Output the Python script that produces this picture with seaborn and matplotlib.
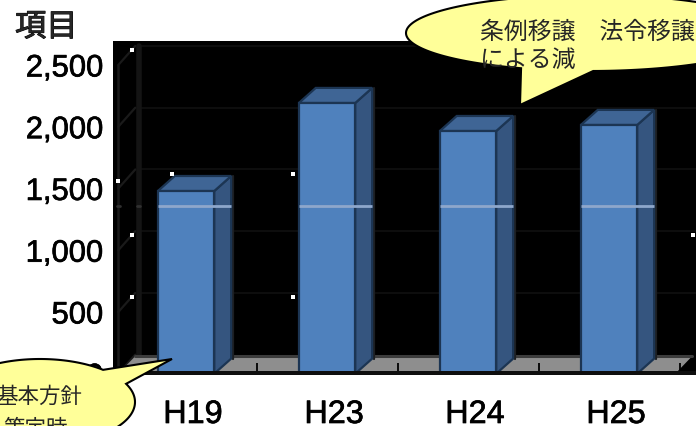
import numpy as np
import pandas as pd
import matplotlib
matplotlib.use("Agg")
import matplotlib.pyplot as plt
import matplotlib.patheffects as pe
import matplotlib.transforms as mtrans
from matplotlib.patches import Polygon
import seaborn as sns

years = ["H19", "H23", "H24", "H25"]
counts = [1479, 2192, 1965, 2014]
axis_values = [0, 500, 1000, 1500, 2000, 2500]
axis_labels = ["0", "500", "1,000", "1,500", "2,000", "2,500"]
axis_title = "項目"
note_upper = ["条例移譲\u3000法令移譲", "による減"]
note_lower = ["基本方針", "策定時"]

W, H = 696, 426
LATIN = "Liberation Sans"
CJK = "Noto Sans CJK JP"
FACE, SIDE, TOP, EDGE = "#4f81bd", "#35557f", "#3f6595", "#1c3553"
DEPTH_X, DEPTH_Y = 0.12, 122     # receding offset of the 3-D boxes, in data units
FLOOR_LIFT = 142
GRID_LIFT = 154
BAND_VALUE = 1354

sns.set_theme(style="white")
plt.rcParams["font.family"] = [LATIN, CJK, "DejaVu Sans"]
heavier = [pe.withStroke(linewidth=0.5, foreground="black")]

fig = plt.figure(figsize=(W / 100, H / 100), dpi=100, facecolor="white")
ax = fig.add_axes([113 / W, 1 - 375 / H, (696 - 113) / W, (375 - 41) / H], facecolor="black")

df = pd.DataFrame({"year": years, "count": counts})
sns.barplot(data=df, x="year", y="count", color=FACE, saturation=1, width=0.4,
            edgecolor=EDGE, linewidth=1.6, ax=ax, zorder=5)

ax.set_xlim(-0.518, 3.617)
ax.set_ylim(-10.5, 2694)
ax.set_xlabel("")
ax.set_ylabel("")
for s in ax.spines.values():
    s.set_visible(False)

# back walls and gridlines, barely lighter than the black background
for v in axis_values:
    ax.plot([-0.48, -0.48 + DEPTH_X], [v, v + GRID_LIFT], color="#1a1a1a", lw=1.6, zorder=1)
    if v:
        ax.plot([-0.34, 3.62], [v + GRID_LIFT, v + GRID_LIFT], color="#0d0d0d", lw=1.5, zorder=1)
ax.plot([-0.48, -0.48], [0, 2500], color="#1a1a1a", lw=1.8, zorder=1)
ax.plot([-0.335, -0.335], [FLOOR_LIFT, 2500 + GRID_LIFT], color="#141414", lw=4, zorder=1)

# floor of the 3-D plot, with a dim rim along its back edge
ax.add_patch(Polygon([(-0.48, 0), (-0.48 + DEPTH_X, FLOOR_LIFT), (3.47 + DEPTH_X, FLOOR_LIFT), (3.47, 0)],
                     closed=True, facecolor="#8e8e8e", edgecolor="none", zorder=2))
ax.plot([-0.48 + DEPTH_X, 3.47 + DEPTH_X], [FLOOR_LIFT] * 2, color="#3c3c3c", lw=2.2, zorder=2)
ax.vlines(np.arange(len(years)) + 0.5, -16, 85, color="black", lw=1.3, zorder=3)

# side and top faces follow each bar's drawn rectangle
for bar in ax.patches[:len(years)]:
    x0, x1 = bar.get_x(), bar.get_x() + bar.get_width()
    h = bar.get_height()
    ax.add_patch(Polygon([(x1, 0), (x1 + DEPTH_X, DEPTH_Y), (x1 + DEPTH_X, h + DEPTH_Y), (x1, h)],
                         closed=True, facecolor=SIDE, edgecolor=EDGE, lw=1.6, zorder=4))
    ax.add_patch(Polygon([(x0, h), (x0 + DEPTH_X, h + DEPTH_Y), (x1 + DEPTH_X, h + DEPTH_Y), (x1, h)],
                         closed=True, facecolor=TOP, edgecolor=EDGE, lw=1.6, zorder=4))
    ax.plot([x1 + DEPTH_X + 0.012] * 2, [DEPTH_Y, h + DEPTH_Y], color="#1d1f22", lw=1.6, zorder=3)
    ax.plot([x0, x1 + DEPTH_X], [BAND_VALUE] * 2, color="#8ea7cb", lw=2, zorder=6,
            solid_capstyle="butt")
for x in (-0.48, -0.335):
    ax.plot([x - 0.012, x + 0.012], [BAND_VALUE] * 2, color="#303030", lw=2, zorder=2)

# dark strip closing the plot below the floor and the bars
ax.axhspan(-10.5, 20, facecolor="#0e0e0e", edgecolor="none", zorder=7)

ax.set_yticks(axis_values, axis_labels)
ax.tick_params(axis="y", length=0, pad=7, labelsize=22.3, labelcolor="black")
ax.tick_params(axis="x", length=0, pad=18, labelsize=23.3, labelcolor="black")
shift = mtrans.ScaledTranslation(7 / 100, 0, fig.dpi_scale_trans)
for lab in ax.get_xticklabels():
    lab.set_transform(lab.get_transform() + shift)
for lab in ax.get_xticklabels() + ax.get_yticklabels():
    lab.set_family(LATIN)
    lab.set_path_effects(heavier)

# overlay in figure pixels for the title and callouts
ov = fig.add_axes([0, 0, 1, 1], facecolor="none", zorder=10)
ov.set_xlim(0, W)
ov.set_ylim(H, 0)
ov.axis("off")

ov.text(15, 27, axis_title, fontsize=22.5, family=CJK, va="center", ha="left",
        path_effects=[pe.withStroke(linewidth=0.7, foreground="black")])

# small white selection handles
ov.scatter([132, 172, 293, 118, 132, 132, 293, 693], [50, 174, 174, 181, 235, 297, 297, 235],
           marker="s", s=9, color="white", linewidths=0, zorder=2)


def callout(cx, cy, rx, ry, a_start, a_end, tip):
    t = np.radians(np.linspace(a_start, a_end, 200))
    pts = np.column_stack([cx + rx * np.cos(t), cy + ry * np.sin(t)])
    return np.vstack([pts, tip])


upper = Polygon(callout(590, 33, 184, 38, 89, -248, (520, 105)), closed=True,
                facecolor="#ffff99", edgecolor="black", lw=1.5, zorder=3)
ov.add_patch(upper)
for text, y in zip(note_upper, (32, 60)):
    t = ov.text(480, y, text, fontsize=17.2, family=CJK, va="center", ha="left", zorder=4)
    t.set_clip_path(upper)

lower = Polygon(callout(40, 402, 95, 43, -25, 311.6, (172, 359)), closed=True,
                facecolor="#ffff99", edgecolor="black", lw=1.5, zorder=3)
ov.add_patch(lower)
for text, x, y in zip(note_lower, (-4, 3), (397, 429)):
    t = ov.text(x, y, text, fontsize=15.5, family=CJK, va="center", ha="left", zorder=4)
    t.set_clip_path(lower)

fig.savefig("out.png", dpi=100, facecolor="white")
